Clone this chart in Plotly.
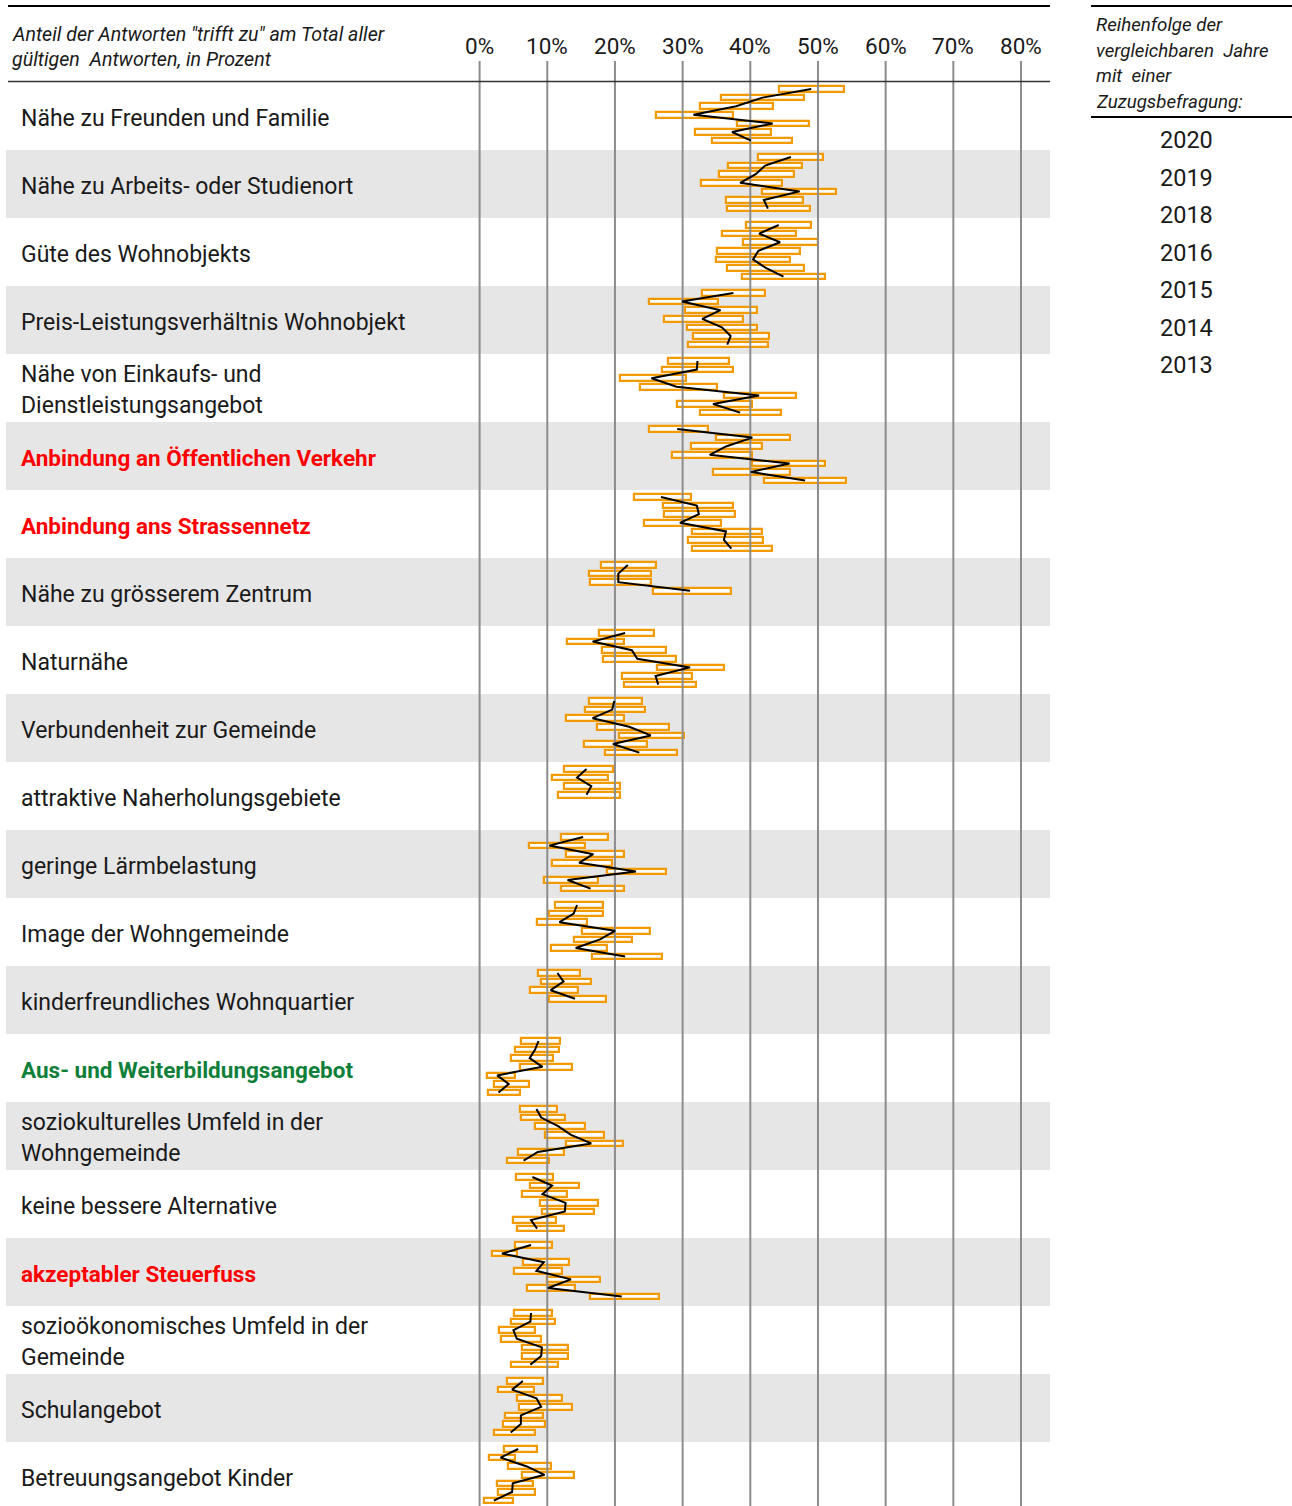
import plotly.graph_objects as go

# ---------------- data ----------------
categories = [
    "Nähe zu Freunden und Familie",
    "Nähe zu Arbeits- oder Studienort",
    "Güte des Wohnobjekts",
    "Preis-Leistungsverhältnis Wohnobjekt",
    "Nähe von Einkaufs- und|Dienstleistungsangebot",
    "Anbindung an Öffentlichen Verkehr",
    "Anbindung ans Strassennetz",
    "Nähe zu grösserem Zentrum",
    "Naturnähe",
    "Verbundenheit zur Gemeinde",
    "attraktive Naherholungsgebiete",
    "geringe Lärmbelastung",
    "Image der Wohngemeinde",
    "kinderfreundliches Wohnquartier",
    "Aus- und Weiterbildungsangebot",
    "soziokulturelles Umfeld in der|Wohngemeinde",
    "keine bessere Alternative",
    "akzeptabler Steuerfuss",
    "sozioökonomisches Umfeld in der|Gemeinde",
    "Schulangebot",
    "Betreuungsangebot Kinder",
]
label_colors = ["#1a1a1a"] * 5 + ["#ff0000", "#ff0000"] + ["#1a1a1a"] * 7 + ["#0f7f3a"] + ["#1a1a1a"] * 2 + ["#ff0000"] + ["#1a1a1a"] * 3
label_bold = [c != "#1a1a1a" for c in label_colors]

years = ["2020", "2019", "2018", "2016", "2015", "2014", "2013"]

estimate = [
    [49.0, 41.8, 37.9, 31.6, 43.3, 37.3, 40.1],
    [46.0, 42.2, 40.8, 38.5, 47.3, 42.0, 42.6],
    [44.2, 41.3, 44.4, 41.2, 40.4, 42.3, 44.9],
    [37.5, 29.9, 35.6, 32.9, 35.8, 37.1, 36.6],
    [32.2, 32.1, 25.4, 29.1, 41.3, 34.5, 38.5],
    [29.2, 40.3, 36.5, 34.0, 45.8, 40.1, 48.1],
    [26.8, 32.1, 32.4, 29.6, 36.4, 36.1, 37.2],
    [21.9, 20.5, 20.5, 31.1, None, None, None],
    [21.5, 16.7, 22.5, 23.3, 31.1, 26.0, 26.4],
    [19.9, 19.6, 16.7, 22.1, 25.3, 19.7, 23.6],
    [15.8, 14.4, 16.5, 15.8, None, None, None],
    [15.3, 10.3, 16.8, 14.7, 23.1, 13.0, 16.4],
    [14.4, 13.9, 11.8, 20.0, 17.8, 14.2, 21.5],
    [11.5, 12.4, 10.5, 14.1, None, None, None],
    [8.7, 8.2, 7.4, 9.3, 2.6, 4.3, 2.8],
    [8.4, 9.1, 11.6, 13.5, 16.5, 8.6, 6.5],
    [7.8, 10.7, 9.3, 12.7, 12.6, 7.6, 8.5],
    [7.6, 3.3, 9.5, 8.4, 13.5, 10.1, 21.0],
    [7.6, 7.5, 5.0, 5.5, 9.2, 9.1, 7.5],
    [6.4, 4.8, 8.4, 9.1, 6.1, 6.1, 4.6],
    [5.7, 3.1, 6.9, 9.6, 4.9, 4.8, 2.1],
]
ci_low = [
    [44.2, 35.6, 32.5, 26.0, 38.0, 31.9, 34.3],
    [41.2, 36.7, 35.4, 32.7, 41.8, 36.4, 36.5],
    [39.4, 35.8, 38.9, 35.1, 35.0, 36.6, 38.8],
    [32.8, 25.0, 30.3, 27.2, 30.7, 31.6, 30.8],
    [27.8, 27.0, 20.8, 23.7, 36.1, 29.1, 32.6],
    [25.0, 34.9, 31.2, 28.5, 40.3, 34.5, 42.0],
    [22.8, 27.1, 27.3, 24.3, 31.4, 30.8, 31.4],
    [18.0, 16.2, 16.3, 25.6, None, None, None],
    [17.6, 12.9, 18.1, 18.3, 26.2, 21.1, 21.3],
    [16.2, 15.5, 12.8, 17.4, 20.6, 15.4, 18.5],
    [12.5, 10.7, 12.5, 11.6, None, None, None],
    [12.0, 7.3, 12.8, 10.7, 18.8, 9.5, 12.1],
    [11.1, 10.3, 8.5, 15.2, 13.9, 10.5, 16.6],
    [8.6, 9.1, 7.4, 10.2, None, None, None],
    [6.1, 5.3, 4.7, 6.0, 1.1, 2.2, 1.2],
    [5.9, 6.1, 8.2, 9.6, 12.8, 5.7, 4.0],
    [5.4, 7.5, 6.3, 8.9, 9.2, 4.9, 5.5],
    [5.2, 1.8, 6.4, 5.1, 9.9, 7.0, 16.3],
    [5.1, 4.7, 2.9, 3.1, 6.3, 6.2, 4.6],
    [4.1, 2.7, 5.5, 5.8, 3.7, 3.5, 2.2],
    [3.6, 1.4, 4.2, 6.2, 2.6, 2.7, 0.7],
]
ci_high = [
    [53.8, 47.9, 43.3, 37.5, 48.7, 43.0, 46.1],
    [50.8, 47.7, 46.4, 44.7, 52.7, 47.8, 48.8],
    [49.0, 46.8, 50.0, 47.4, 45.8, 48.0, 51.0],
    [42.2, 35.2, 41.0, 38.9, 41.0, 42.8, 42.6],
    [36.8, 37.5, 30.5, 35.1, 46.7, 40.2, 44.5],
    [33.7, 45.9, 41.8, 40.2, 51.0, 45.9, 54.2],
    [31.3, 37.5, 37.8, 35.6, 41.7, 41.9, 43.2],
    [26.0, 25.4, 25.4, 37.1, None, None, None],
    [25.7, 21.3, 27.5, 29.0, 36.1, 31.4, 32.0],
    [24.0, 24.4, 21.3, 28.0, 30.2, 24.7, 29.2],
    [19.7, 18.9, 20.7, 20.8, None, None, None],
    [19.0, 15.6, 21.4, 19.6, 27.6, 17.5, 21.3],
    [18.2, 18.2, 15.9, 25.2, 22.5, 18.8, 26.9],
    [14.9, 16.4, 14.6, 18.7, None, None, None],
    [11.9, 11.7, 10.9, 13.6, 5.3, 7.3, 5.9],
    [11.4, 12.6, 15.5, 18.4, 21.2, 12.4, 10.3],
    [10.9, 14.7, 12.9, 17.5, 16.9, 11.3, 12.5],
    [10.7, 5.5, 13.2, 12.2, 17.8, 14.1, 26.5],
    [10.7, 11.2, 8.2, 9.1, 13.1, 13.1, 11.6],
    [9.4, 8.1, 12.2, 13.6, 9.4, 9.6, 8.2],
    [8.5, 5.2, 10.6, 14.0, 7.9, 8.2, 4.9],
]

tick_values = [0, 10, 20, 30, 40, 50, 60, 70, 80]
tick_labels = ["0%", "10%", "20%", "30%", "40%", "50%", "60%", "70%", "80%"]

header_text = ["Anteil der Antworten \"trifft zu\" am Total aller", "gültigen  Antworten, in Prozent"]
legend_title = ["Reihenfolge der", "vergleichbaren  Jahre", "mit  einer", "Zuzugsbefragung:"]

# ---------------- layout geometry (pixels) ----------------
W, H = 1292, 1506
PX_PER_PCT = (1021 - 479.6) / 80.0
X_MIN = -479.6 / PX_PER_PCT
X_MAX = (W - 479.6) / PX_PER_PCT
ROW_TOP0 = 82
ROW_H = 68
BAR_OFF0 = 7
BAR_STEP = 8.6

FONT = "Roboto"
ORANGE = "#f39a00"
TXT = "#1a1a1a"


def px(x):
    return x / W


fig = go.Figure()

# rectangles (confidence intervals)
bar_y, bar_base, bar_len = [], [], []
for r in range(len(categories)):
    for j in range(len(years)):
        lo, hi = ci_low[r][j], ci_high[r][j]
        if lo is None:
            continue
        bar_y.append(ROW_TOP0 + ROW_H * r + BAR_OFF0 + BAR_STEP * j)
        bar_base.append(lo)
        bar_len.append(hi - lo)

fig.add_trace(go.Bar(
    orientation="h", y=bar_y, x=bar_len, base=bar_base, width=5.5,
    marker=dict(color="white", line=dict(color=ORANGE, width=2.2)),
    hoverinfo="skip", showlegend=False,
))

# grid lines (drawn above the rectangles, below the estimate line)
gx, gy = [], []
for v in tick_values:
    gx += [v, v, None]
    gy += [61, H, None]
fig.add_trace(go.Scatter(x=gx, y=gy, mode="lines", line=dict(color="#8c8c8c", width=2),
                         hoverinfo="skip", showlegend=False))

# estimate lines
for r in range(len(categories)):
    xs, ys = [], []
    for j in range(len(years)):
        e = estimate[r][j]
        if e is None:
            continue
        xs.append(e)
        ys.append(ROW_TOP0 + ROW_H * r + BAR_OFF0 + BAR_STEP * j)
    fig.add_trace(go.Scatter(x=xs, y=ys, mode="lines", line=dict(color="black", width=2),
                             hoverinfo="skip", showlegend=False))

shapes = []
# alternating row bands
for r in range(len(categories)):
    if r % 2 == 1:
        shapes.append(dict(type="rect", xref="paper", yref="y", x0=px(6), x1=px(1050),
                           y0=ROW_TOP0 + ROW_H * r, y1=ROW_TOP0 + ROW_H * (r + 1),
                           fillcolor="#e6e6e6", line=dict(width=0), layer="below"))
# header rules
shapes.append(dict(type="line", xref="paper", yref="y", x0=px(8), x1=px(1050), y0=6, y1=6,
                   line=dict(color="black", width=2)))
shapes.append(dict(type="line", xref="paper", yref="y", x0=px(8), x1=px(1050), y0=81.5, y1=81.5,
                   line=dict(color="#333333", width=1.5)))
shapes.append(dict(type="line", xref="paper", yref="y", x0=px(1091), x1=px(1292), y0=6, y1=6,
                   line=dict(color="black", width=2)))
shapes.append(dict(type="line", xref="paper", yref="y", x0=px(1091), x1=px(1292), y0=117, y1=117,
                   line=dict(color="black", width=2)))

annotations = []
# category labels
for r, cat in enumerate(categories):
    yc = ROW_TOP0 + ROW_H * r + ROW_H / 2 + 2
    lines = cat.split("|")
    n = len(lines)
    for k, ln in enumerate(lines):
        yy = yc + (k - (n - 1) / 2) * 31
        txt = f"<b>{ln}</b>" if label_bold[r] else ln
        annotations.append(dict(text=txt, xref="paper", yref="y", x=px(19), y=yy,
                                xanchor="left", yanchor="middle", showarrow=False,
                                font=dict(family=FONT, size=22.5 if label_bold[r] else 23,
                                          color=label_colors[r])))
# tick labels
for v, t in zip(tick_values, tick_labels):
    annotations.append(dict(text=t, xref="x", yref="y", x=v, y=46, xanchor="center", yanchor="middle",
                            showarrow=False, font=dict(family=FONT, size=22.5, color=TXT)))
# header text
for k, t in enumerate(header_text):
    annotations.append(dict(text=f"<i>{t}</i>", xref="paper", yref="y", x=px(10), y=34 + 25 * k,
                            xanchor="left", yanchor="middle", showarrow=False,
                            font=dict(family=FONT, size=19.6, color=TXT)))
# legend title
for k, t in enumerate(legend_title):
    annotations.append(dict(text=f"<i>{t}</i>", xref="paper", yref="y", x=px(1094), y=25 + 25.7 * k,
                            xanchor="left", yanchor="middle", showarrow=False,
                            font=dict(family=FONT, size=18.7, color=TXT)))
# legend years
for k, t in enumerate(years):
    annotations.append(dict(text=t, xref="paper", yref="y", x=px(1186), y=140 + 37.5 * k,
                            xanchor="center", yanchor="middle", showarrow=False,
                            font=dict(family=FONT, size=23.5, color=TXT)))

fig.update_layout(
    width=W, height=H, margin=dict(l=0, r=0, t=0, b=0, pad=0),
    paper_bgcolor="white", plot_bgcolor="white",
    xaxis=dict(range=[X_MIN, X_MAX], visible=False, fixedrange=True),
    yaxis=dict(range=[H, 0], visible=False, fixedrange=True),
    barmode="overlay", bargap=0, showlegend=False,
    shapes=shapes, annotations=annotations,
    font=dict(family=FONT, color=TXT),
)

fig.write_html("out.html", config={"displayModeBar": False},
               post_script="document.body.style.margin='0';document.body.style.overflow='hidden';")
